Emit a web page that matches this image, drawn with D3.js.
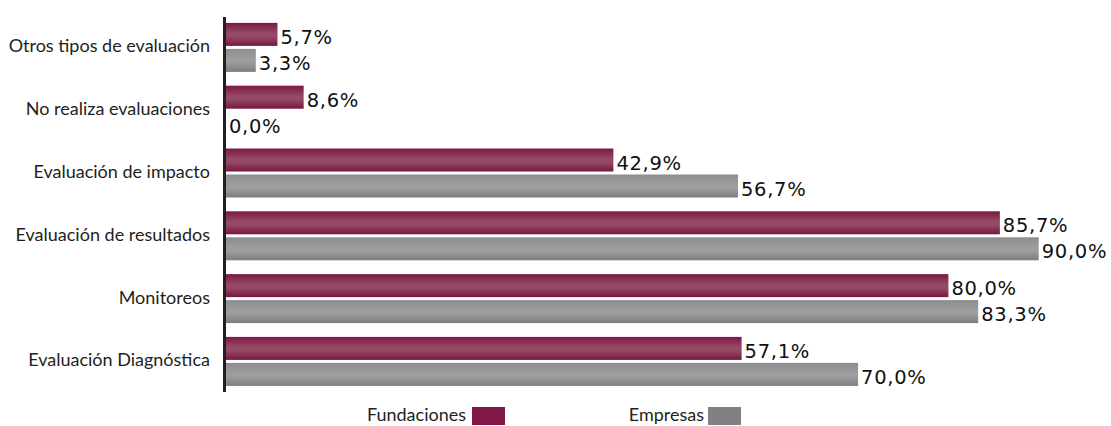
<!DOCTYPE html>
<head>
<meta charset="utf-8">
<title></title>
<style>
body { margin: 0; background: #fff; }
.cat { font: 18px Lato, sans-serif; fill: #231f20; }
.val { font: 19.5px "DejaVu Sans", sans-serif; fill: #111; letter-spacing: 0.7px; }
.leg { font: 18px Lato, sans-serif; fill: #231f20; }
</style>
</head>
<body>
<script src="https://cdn.jsdelivr.net/npm/d3@7"></script>
<script>
// data, top row first
var categories = ["Otros tipos de evaluación", "No realiza evaluaciones", "Evaluación de impacto",
                  "Evaluación de resultados", "Monitoreos", "Evaluación Diagnóstica"];
var fundaciones = [5.7, 8.6, 42.9, 85.7, 80.0, 57.1];
var empresas = [3.3, 0.0, 56.7, 90.0, 83.3, 70.0];
var seriesNames = ["Fundaciones", "Empresas"];

var width = 1111, height = 426;
var x0 = 226;

var svg = d3.select("body").append("svg")
    .attr("width", width)
    .attr("height", height);

var defs = svg.append("defs");
function grad(id, edge, mid, bottom) {
  var g = defs.append("linearGradient").attr("id", id)
      .attr("x1", 0).attr("y1", 0).attr("x2", 0).attr("y2", 1);
  g.append("stop").attr("offset", "0%").attr("stop-color", edge);
  g.append("stop").attr("offset", "45%").attr("stop-color", mid);
  g.append("stop").attr("offset", "60%").attr("stop-color", mid);
  g.append("stop").attr("offset", "100%").attr("stop-color", bottom);
}
grad("gFund", "#7c1846", "#944a63", "#7a1444");
grad("gEmp", "#8c8d8f", "#9c9d9f", "#7c7d7f");

var x = d3.scaleLinear().domain([0, 100]).range([x0, x0 + 903]);
var y = d3.scaleBand().domain(categories).range([16, 16 + 6 * 62.8]);

var rows = categories.map(function(c, i) {
  return {cat: c, vals: [fundaciones[i], empresas[i]]};
});

var barH = 23, gap = 3;
var row = svg.selectAll(".row").data(rows).enter().append("g")
    .attr("transform", function(d) { return "translate(0," + (y(d.cat) + (y.bandwidth() - 2 * barH - gap) / 2) + ")"; });

row.append("text")
    .attr("class", "cat")
    .attr("x", 210)
    .attr("y", barH + gap / 2 + 5)
    .attr("text-anchor", "end")
    .text(function(d) { return d.cat; });

row.selectAll("rect").data(function(d) { return d.vals; }).enter().append("rect")
    .attr("x", x0)
    .attr("y", function(d, i) { return i * (barH + gap); })
    .attr("width", function(d) { return x(d) - x0; })
    .attr("height", barH)
    .attr("fill", function(d, i) { return i === 0 ? "url(#gFund)" : "url(#gEmp)"; });

row.selectAll(".val").data(function(d) { return d.vals; }).enter().append("text")
    .attr("class", "val")
    .attr("x", function(d) { return x(d) + 3; })
    .attr("y", function(d, i) { return i * (barH + gap) + barH / 2 + 9.5; })
    .text(function(d) { return d.toFixed(1).replace(".", ",") + "%"; });

// axis line
svg.append("line")
    .attr("x1", 224.5).attr("x2", 224.5)
    .attr("y1", 17).attr("y2", 392)
    .attr("stroke", "#231f20")
    .attr("stroke-width", 3);

// legend
var legend = [{name: seriesNames[0], tx: 466, sx: 472, c: "#7f1847"},
              {name: seriesNames[1], tx: 704, sx: 708, c: "#808184"}];
var lg = svg.selectAll(".lg").data(legend).enter().append("g");
lg.append("text").attr("class", "leg")
    .attr("x", function(d) { return d.tx; })
    .attr("y", 421)
    .attr("text-anchor", "end")
    .text(function(d) { return d.name; });
lg.append("rect")
    .attr("x", function(d) { return d.sx; })
    .attr("y", 407)
    .attr("width", 33).attr("height", 18)
    .attr("fill", function(d) { return d.c; });
</script>
</body>
</html>
